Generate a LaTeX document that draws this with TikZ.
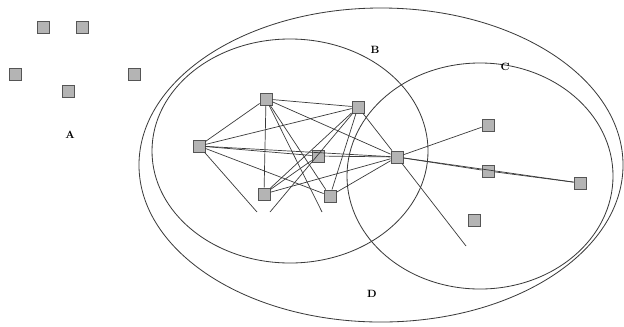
\documentclass[tikz,border=0pt]{standalone}
\usepackage{xcolor}
\usepackage{tikz}
\usetikzlibrary{positioning}
\definecolor{linegray}{HTML}{3A3A3A}
\definecolor{boxfill}{HTML}{B4B4B4}
\definecolor{boxedge}{HTML}{555555}
\tikzset{
  agent/.style={draw=boxedge, fill=boxfill, line width=.7pt, minimum size=.36cm, inner sep=0pt},
  tie/.style={linegray, line width=.6pt},
  setline/.style={linegray, line width=.7pt},
  setname/.style={font=\small\bfseries}
}

\begin{document}
\begin{tikzpicture}[x=.03cm,y=-.03cm]
          \useasboundingbox (0,0) rectangle (624,326);
          % sets
          \draw[setline] (381,165) ellipse [x radius=7.26cm, y radius=4.71cm];
          \draw[setline] (290,151) ellipse [x radius=4.14cm, y radius=3.36cm];
          \draw[setline] (480,176) ellipse [x radius=3.99cm, y radius=3.39cm];
          % isolated agents
          \node[agent] (a1) at (43,27) {};
          \node[agent] (a2) at (82,27) {};
          \node[agent] (a3) at (15,74) {};
          \node[agent] (a4) at (68,91) {};
          \node[agent] (a5) at (134,74) {};
          % network
          \node[agent] (n1) at (199,146) {};
          \node[agent] (n2) at (266,99) {};
          \node[agent] (n3) at (358,107) {};
          \node[agent] (n4) at (264,194) {};
          \node[agent] (n5) at (330,196) {};
          \node[agent] (n6) at (318,156) {};
          \node[agent] (n7) at (397,157) {};
          \node[agent] (n8) at (488,125) {};
          \node[agent] (n9) at (488,171) {};
          \node[agent] (n10) at (580,183) {};
          \node[agent] (n11) at (474,220) {};
          \coordinate (e1) at (257,212);
          \coordinate (e2) at (270,212);
          \coordinate (e3) at (322,212);
          \coordinate (e4) at (466,246);
          \foreach \u/\v in {n1/n2,n1/n3,n1/n6,n1/n7,n1/n5,n1/e1,
                             n2/n3,n2/n4,n2/n5,n2/n7,n2/e3,
                             n3/n4,n3/n5,n3/n7,n3/e2,
                             n4/n7,n4/n6,n5/n7,n6/n7,
                             n7/n8,n7/n9,n9/n10,n7/n10,n7/e4}
            \draw[tie] (\u) -- (\v);
          % labels
          \node[setname] (la) at (70,135) {A};
          \node[setname] (lb) at (375,50) {B};
          \node[setname] (lc) at (505,67) {C};
          \node[setname] (ld) at (372,294) {D};
        \end{tikzpicture}
\end{document}
